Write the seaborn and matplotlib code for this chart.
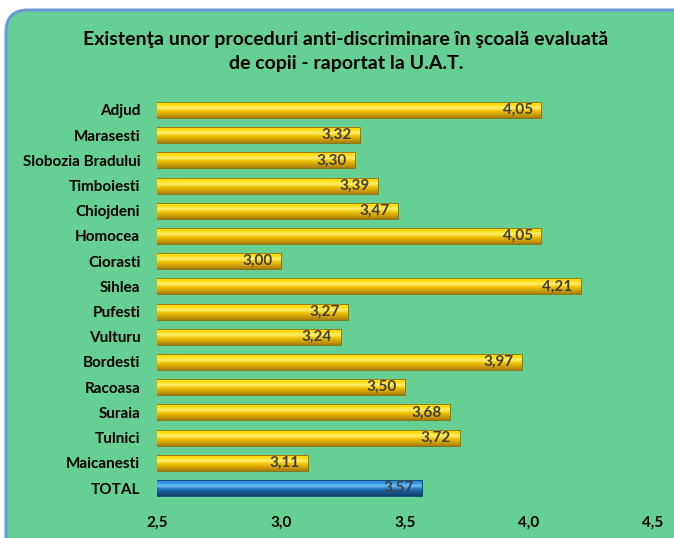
import numpy as np
import pandas as pd
import matplotlib
matplotlib.use("Agg")
import matplotlib.pyplot as plt
import seaborn as sns
from matplotlib.patches import FancyBboxPatch
from matplotlib.transforms import IdentityTransform
from matplotlib.ticker import FuncFormatter

# data
categories = ["Adjud", "Marasesti", "Slobozia Bradului", "Timboiesti", "Chiojdeni",
              "Homocea", "Ciorasti", "Sihlea", "Pufesti", "Vulturu", "Bordesti",
              "Racoasa", "Suraia", "Tulnici", "Maicanesti", "TOTAL"]
scores = [4.05, 3.32, 3.30, 3.39, 3.47, 4.05, 3.00, 4.21, 3.27, 3.24, 3.97,
          3.50, 3.68, 3.72, 3.11, 3.57]
title_lines = ["Existenţa unor proceduri anti-discriminare în şcoală evaluată",
               "de copii - raportat la U.A.T."]

GREEN = "#66CF94"
GOLD = "#E8B800"
BLUE = "#1F78C8"

df = pd.DataFrame({"UAT": categories, "Scor": scores})
palette = {c: (BLUE if c == "TOTAL" else GOLD) for c in categories}

sns.set_theme(style="white")
plt.rcParams['font.family'] = ['Lato', 'DejaVu Sans']

fig = plt.figure(figsize=(6.74, 5.38), dpi=100)
fig.patch.set_facecolor("white")

# rounded green panel (pixel coordinates)
panel = FancyBboxPatch((6, -40), 720, 568, boxstyle="round,pad=0,rounding_size=22",
                       transform=IdentityTransform(), facecolor=GREEN,
                       edgecolor="#6B9BD6", linewidth=2.2, zorder=0)
fig.add_artist(panel)

ax = fig.add_axes([157 / 674, 0.0695, 496 / 674, 0.7495])
ax.set_facecolor("none")

sns.barplot(data=df, y="UAT", x="Scor", hue="UAT", palette=palette, legend=False,
            orient="h", width=0.64, ax=ax, edgecolor="none")
ax.set_xlim(2.5, 4.5)
ax.set_xticks([2.5, 3.0, 3.5, 4.0, 4.5])
ax.xaxis.set_major_formatter(FuncFormatter(lambda v, p: f"{v:.1f}".replace(".", ",")))

# bevel-like shading on each bar
grad = np.linspace(0, 1, 64).reshape(-1, 1)
gold_cmap = matplotlib.colors.LinearSegmentedColormap.from_list(
    "gold", ["#FFE84A", "#FFD800", "#FFF070", "#EEC000", "#CFA008", "#A87C10"])
blue_cmap = matplotlib.colors.LinearSegmentedColormap.from_list(
    "blue", ["#3A9BE8", "#2A8CDA", "#6FC0F5", "#1F6FB8", "#17548C", "#0F3F6E"])
x0 = ax.get_xlim()[0]
for patch, cat in zip(ax.patches, categories):
    x, y = patch.get_x(), patch.get_y()
    w, h = patch.get_width(), patch.get_height()
    cmap = blue_cmap if cat == "TOTAL" else gold_cmap
    im = ax.imshow(grad, cmap=cmap, aspect="auto", interpolation="bilinear",
                   extent=(max(x, x0), x + w, y + h, y), zorder=2)
    im.set_clip_path(patch)
    patch.set_edgecolor("#8A6A08" if cat != "TOTAL" else "#0F3F6E")
    patch.set_linewidth(0.6)
    patch.set_zorder(3)
    patch.set_facecolor("none")
ax.set_ylim(len(categories) - 0.5, -0.5)

for i, v in enumerate(scores):
    ax.annotate(f"{v:.2f}".replace(".", ","), xy=(v, i), xytext=(-6, 0),
                textcoords="offset points", ha="right", va="center",
                fontsize=11, fontweight="bold", color="#404040", zorder=5)

ax.set_xlabel("")
ax.set_ylabel("")
for s in ax.spines.values():
    s.set_visible(False)
ax.tick_params(axis="both", length=0, colors="black")
ax.tick_params(axis="y", pad=12)
ax.tick_params(axis="x", pad=11)
for lab in ax.get_yticklabels() + ax.get_xticklabels():
    lab.set_fontweight("bold")
    lab.set_fontsize(11)
ax.grid(False)

for line, ypix in zip(title_lines, [40, 63]):
    fig.text(346 / 674, 1 - ypix / 538, line, ha="center", va="center",
             fontsize=14, fontweight="bold", color="black")

fig.savefig("out.png", dpi=100)
plt.close(fig)
